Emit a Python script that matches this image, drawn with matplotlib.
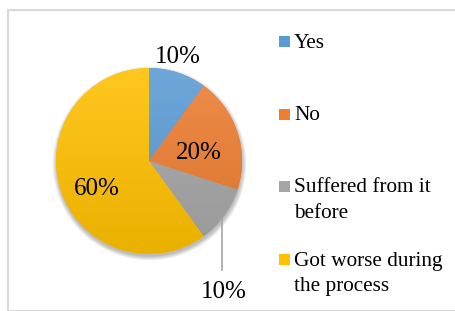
import numpy as np
import matplotlib
matplotlib.use('Agg')
import matplotlib.pyplot as plt
from matplotlib.patches import Rectangle, Circle
from matplotlib.colors import to_rgb

labels = ['Yes', 'No', 'Suffered from it\nbefore', 'Got worse during\nthe process']
values = [10, 20, 10, 60]
colors = ['#5B9BD5', '#ED7D31', '#A5A5A5', '#FFC000']

plt.rcParams['font.family'] = ['Liberation Serif', 'DejaVu Serif']

W, H = 456, 311
fig = plt.figure(figsize=(W / 100, H / 100), dpi=100)
ax = fig.add_axes([0, 0, 1, 1])

# outer frame
fig.patches.append(Rectangle((8.5 / W, 0.5 / H), (W + 10) / W, (H - 10) / H,
                             transform=fig.transFigure, fill=False,
                             edgecolor='#D9D9D9', linewidth=1.5))

cx, cy, r = 149, 150, 93

# soft shadow
for i in range(8):
    ax.add_patch(Circle((cx + 0.5, cy - 2.5), r + 4 - i * 0.6, color='black',
                        alpha=0.035, lw=0, zorder=1))

wedges, texts, autotexts = ax.pie(values, colors=colors, startangle=90, counterclock=False,
                                  center=(cx, cy), radius=r, autopct='%d%%',
                                  frame=True, wedgeprops=dict(linewidth=0),
                                  textprops=dict(fontsize=18, color='#000000'))
ax.set_xlim(0, W)
ax.set_ylim(0, H)
ax.axis('off')

# vertical gradient fill clipped to each wedge
grad = np.linspace(0, 1, 256).reshape(-1, 1)
for w, c in zip(wedges, colors):
    base = np.array(to_rgb(c))
    top = base + (1 - base) * 0.12
    bot = base * 0.92
    img = top[None, None, :] * (1 - grad[:, :, None]) + bot[None, None, :] * grad[:, :, None]
    im = ax.imshow(img, extent=(cx - r, cx + r, cy - r, cy + r), origin='upper',
                   aspect='auto', zorder=2)
    im.set_clip_path(w)
    w.set_zorder(1.5)
for t in autotexts:
    t.set_zorder(5)

# label positions (distance in radii, angle in degrees)
for t, (d, a) in zip([autotexts[0], autotexts[1], autotexts[3]],
                     [(1.16, 74.5), (0.54, 9), (0.64, -152)]):
    t.set_position((cx + d * r * np.cos(np.radians(a)), cy + d * r * np.sin(np.radians(a))))

# leader line label for the small grey wedge
ang = np.radians(-38)
px, py = cx + r * np.cos(ang), cy + r * np.sin(ang)
autotexts[2].set_visible(False)
ax.plot([px, px], [py, 41], color='#A5A5A5', lw=1.2, zorder=4)
ax.text(px + 2, 19, '%d%%' % values[2], fontsize=18, ha='center', va='center', zorder=5)

# legend
leg_y = [270, 197, 125, 51.5]
for lab, c, y in zip(labels, colors, leg_y):
    ax.add_patch(Rectangle((279, y - 5.5), 11, 11, color=c, lw=0))
    for k, line in enumerate(lab.split('\n')):
        ax.text(294, y - 2 - k * 25, line, fontsize=15.3, va='center', ha='left')

fig.savefig('out.png', dpi=100)
